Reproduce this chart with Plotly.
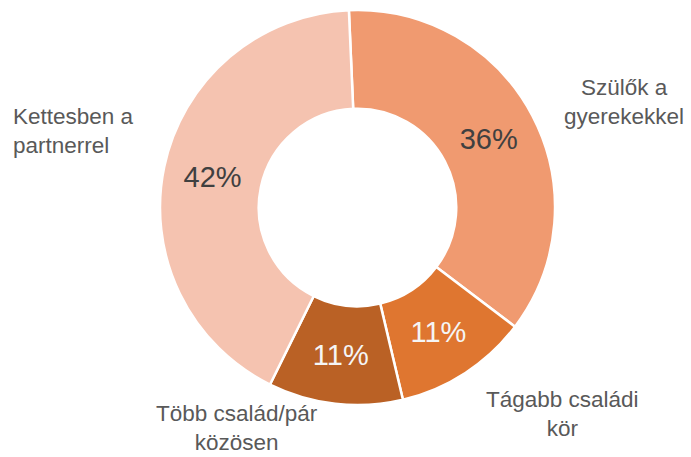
import plotly.graph_objects as go

categories = ["Szülők a<br>gyerekekkel", "Tágabb családi<br>kör", "Több család/pár<br>közösen", "Kettesben a<br>partnerrel"]
values = [36, 11, 11, 42]
pct_labels = ["36%", "11%", "11%", "42%"]
colors = ["#F09A70", "#DF7630", "#BA6125", "#F5C3B0"]
text_colors = ["#404040", "#F5F5F5", "#F5F5F5", "#404040"]

W, H = 691, 457
FONT = "Liberation Sans, Arial"
fig = go.Figure(go.Pie(
    values=values,
    labels=categories,
    text=pct_labels,
    textinfo="text",
    textposition="inside",
    insidetextorientation="horizontal",
    sort=False,
    direction="clockwise",
    rotation=-2.5,
    hole=0.5,
    marker=dict(colors=colors, line=dict(color="white", width=2.5)),
    insidetextfont=dict(family=FONT, size=29, color=text_colors),
    domain=dict(x=[160 / W, 555 / W], y=[1 - 405 / H, 1 - 10 / H]),
    showlegend=False,
    hoverinfo="label+text",
))

label_pos = [
    (624, 102, "center", "center"),
    (562, 414, "center", "center"),
    (237, 428, "center", "center"),
    (11, 131, "left", "left"),
]
for cat, (x, y, xa, al) in zip(categories, label_pos):
    fig.add_annotation(
        x=x / W, y=1 - y / H, xref="paper", yref="paper",
        text=cat, showarrow=False, xanchor=xa, yanchor="middle", align=al,
        font=dict(family=FONT, size=22.5, color="#595959"),
    )

fig.update_layout(
    width=W, height=H,
    margin=dict(l=0, r=0, t=0, b=0),
    paper_bgcolor="white", plot_bgcolor="white",
    uniformtext=dict(minsize=29, mode="show"),
)
fig.write_html("out.html", config={"displayModeBar": False},
               post_script="document.body.style.margin='0';")
